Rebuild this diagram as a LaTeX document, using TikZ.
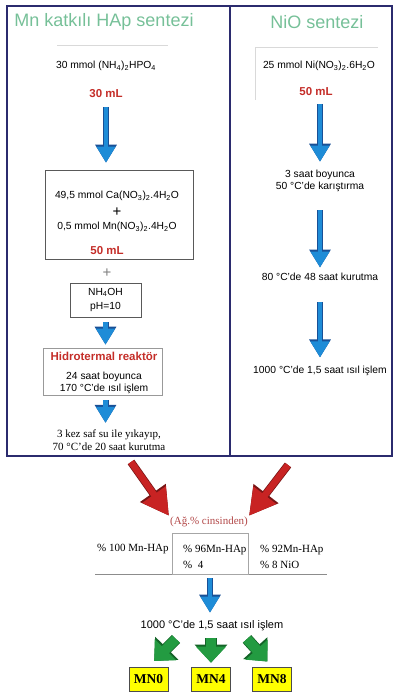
\documentclass[tikz,border=0pt]{standalone}
\usepackage{fontspec}
\setmainfont{Liberation Serif}
\setsansfont{Liberation Sans}
\usepackage{tikz}
\usetikzlibrary{arrows.meta}
\definecolor{frameNavy}{RGB}{43,43,110}
\definecolor{titleGreen}{RGB}{118,192,152}
\definecolor{volRed}{RGB}{196,45,40}
\definecolor{flowBlue}{RGB}{30,140,215}
\definecolor{flowBlueDark}{RGB}{25,80,150}
\definecolor{mixRed}{RGB}{200,35,35}
\definecolor{mixRedDark}{RGB}{120,20,20}
\definecolor{outGreen}{RGB}{35,155,65}
\definecolor{outGreenDark}{RGB}{20,100,40}
\definecolor{wtRed}{RGB}{178,72,72}
\definecolor{sampleYellow}{RGB}{255,255,0}
\newcommand{\chsub}[1]{\textsubscript{#1}}
\tikzset{
  sans/.style={font=\sffamily\fontsize{10.3}{12.5}\selectfont, align=center, inner sep=1pt},
  serif/.style={font=\rmfamily\fontsize{11}{15.5}\selectfont, inner sep=1pt},
  title/.style={font=\sffamily\fontsize{18}{20}\selectfont, text=titleGreen, inner sep=0pt},
  volume/.style={font=\sffamily\bfseries\fontsize{11.5}{13}\selectfont, text=volRed, inner sep=1pt},
  plus/.style={font=\sffamily\fontsize{15}{15}\selectfont, inner sep=0pt},
  stepframe/.style={draw=black!65, line width=0.6pt, inner sep=0pt, align=center},
  bluearrow/.style={line width=4.5pt, draw=flowBlue, -{Triangle[width=18pt,length=16pt]},
    preaction={draw=flowBlueDark, line width=6pt, -{Triangle[width=20.5pt,length=18pt]}}},
  redarrow/.style={line width=6.5pt, draw=mixRed, -{Triangle[width=27pt,length=26pt]},
    preaction={draw=mixRedDark, line width=8pt, -{Triangle[width=29.5pt,length=28pt]}}},
  greenarrow/.style={line width=10pt, draw=outGreen, -{Triangle[width=29pt,length=16pt]},
    preaction={draw=outGreenDark, line width=11.5pt, -{Triangle[width=31.5pt,length=18pt]}}},
  mnbox/.style={draw=black!70, fill=sampleYellow, line width=0.6pt, minimum width=39pt,
    minimum height=24pt, font=\rmfamily\bfseries\fontsize{13.5}{14}\selectfont}
}
\begin{document}
\begin{tikzpicture}[x=1pt, y=-1pt]
  \useasboundingbox (0,0) rectangle (396,698);

  % two synthesis panels
  \draw[frameNavy, line width=1.6pt] (7,6) rectangle (392,456);
  \draw[frameNavy, line width=1.6pt] (230,6) -- (230,456);
  \node[title] (haptitle) at (104,22) {Mn katkılı HAp sentezi};
  \node[title] (niotitle) at (317,22) {NiO sentezi};
  \draw[black!15, line width=0.5pt] (57,45) -- (168,45);
  \draw[black!15, line width=0.5pt] (255,100) -- (255,47) -- (378,47);

  % Mn katkili HAp
  \node[sans] (phosphate) at (106,66) {30 mmol (NH\chsub{4})\chsub{2}HPO\chsub{4}};
  \node[volume] (hapvol) at (106,94) {30 mL};
  \node[stepframe, minimum width=148pt, minimum height=89pt] (saltbox) at (119,214.5) {};
  \node[sans] (calcium) at (117,196) {49,5 mmol Ca(NO\chsub{3})\chsub{2}.4H\chsub{2}O};
  \node[plus] (plusa) at (117,212) {+};
  \node[sans] (manganese) at (117,227) {0,5 mmol Mn(NO\chsub{3})\chsub{2}.4H\chsub{2}O};
  \node[volume] (saltvol) at (107,251) {50 mL};
  \node[plus, text=black!50] (plusb) at (107,273) {+};
  \node[stepframe, sans, minimum width=71pt, minimum height=34pt,
    font=\sffamily\fontsize{10.3}{14.5}\selectfont] (base) at (105.5,300) {NH\chsub{4}OH\\pH=10};
  \node[stepframe, draw=black!40, minimum width=119pt, minimum height=47pt] (reactor) at (102.5,371.5) {};
  \node[volume] (reactortitle) at (104,356) {Hidrotermal reaktör};
  \node[sans] (hydro) at (104,383) {24 saat boyunca\\170 °C'de ısıl işlem};
  \node[serif, align=center, font=\rmfamily\fontsize{11}{13}\selectfont] (wash) at (109,440)
    {3 kez saf su ile yıkayıp,\\70 °C'de 20 saat kurutma};

  \draw[bluearrow, shorten <=7.5pt, shorten >=7pt] (hapvol.south) -- (hapvol.south |- saltbox.north);
  \draw[bluearrow, shorten <=5pt, shorten >=3pt] (base.south) -- (base.south |- reactor.north);
  \draw[bluearrow, shorten <=5pt, shorten >=5.5pt] (reactor.south -| base.south) -- (base.south |- wash.north);

  % NiO
  \node[sans] (nitrate) at (319,66) {25 mmol Ni(NO\chsub{3})\chsub{2}.6H\chsub{2}O};
  \node[volume] (niovol) at (316,92) {50 mL};
  \node[sans] (stirring) at (320,181) {3 saat boyunca\\50 °C'de karıştırma};
  \node[sans] (drying) at (320,277) {80 °C'de 48 saat kurutma};
  \node[sans] (niocalc) at (320,371) {1000 °C'de 1,5 saat ısıl işlem};

  \draw[bluearrow, shorten <=6.5pt, shorten >=7pt] (stirring.north |- niovol.south) -- (stirring.north);
  \draw[bluearrow, shorten <=17pt, shorten >=4.5pt] (stirring.south) -- (drying.north);
  \draw[bluearrow, shorten <=20pt, shorten >=7.5pt] (drying.south) -- (niocalc.north);

  % mixing
  \coordinate (hapend) at (131,462);
  \coordinate (nioend) at (288,465);
  \node[serif, text=wtRed] (weight) at (209,522) {(Ağ.\% cinsinden)};
  \draw[redarrow] (hapend) -- (weight.north west);
  \draw[redarrow] (nioend) -- (weight.north east);

  \draw[black!45, line width=0.5pt] (95,574) -- (327,574);
  \node[draw=black!35, line width=0.5pt, minimum width=76pt, minimum height=41pt] (ratio) at (210,553.5) {};
  \node[serif, anchor=west] (pure) at (96,549) {\% 100 Mn-HAp};
  \node[serif, anchor=west, align=left] (four) at (182,557) {\% 96Mn-HAp\\\%\ \ 4};
  \node[serif, anchor=west, align=left] (eight) at (259,557) {\% 92Mn-HAp\\\% 8 NiO};

  \node[sans, font=\sffamily\fontsize{11}{13}\selectfont] (finalcalc) at (212,626) {1000 °C'de 1,5 saat ısıl işlem};
  \draw[bluearrow, shorten <=4pt, shorten >=7pt] (ratio.south) -- (ratio.south |- finalcalc.north);

  % samples
  \node[mnbox] (mn0) at (148.5,679) {MN0};
  \node[mnbox] (mn4) at (211,679) {MN4};
  \node[mnbox] (mn8) at (272,679) {MN8};
  \coordinate (out0) at (176,639);
  \coordinate (out4) at (211,638);
  \coordinate (out8) at (247,639);
  \draw[greenarrow, shorten >=8pt] (out0) -- (mn0.north);
  \draw[greenarrow, shorten >=4pt] (out4) -- (mn4.north);
  \draw[greenarrow, shorten >=7pt] (out8) -- (mn8.north);
\end{tikzpicture}
\end{document}
